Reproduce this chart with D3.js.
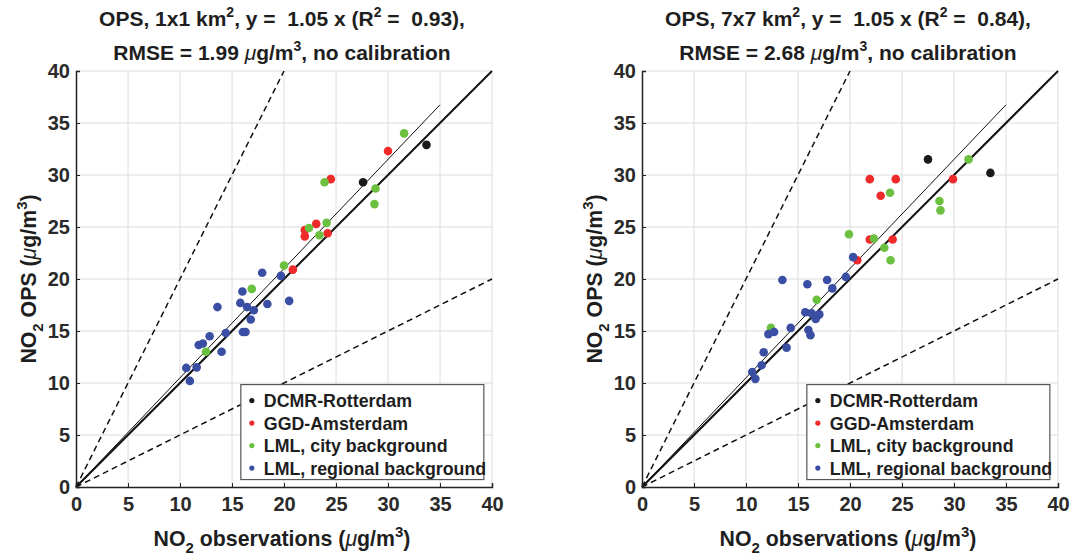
<!DOCTYPE html>
<html>
<head>
<meta charset="utf-8">
<script src="https://cdn.jsdelivr.net/npm/d3@7"></script>
<style>
  body { margin: 0; background: #fff; }
  svg { font-family: "Liberation Sans", Arial, sans-serif; font-weight: bold; }
  text { white-space: pre; }
</style>
</head>
<body>
<svg id="chart" width="1070" height="558"></svg>
<script>
// Groups and colours
const groups = ["DCMR-Rotterdam", "GGD-Amsterdam", "LML, city background", "LML, regional background"];
const groupColors = ["#1a1a1a", "#ee2a2a", "#6cc040", "#3a4ea3"];
const ticks = [0, 5, 10, 15, 20, 25, 30, 35, 40];

// Panel titles
const titles = [
  { res: "1x1", slope: "1.05", r2: "0.93", rmse: "1.99" },
  { res: "7x7", slope: "1.05", r2: "0.84", rmse: "2.68" }
];

// Left panel (1x1 km2): [observed, modelled]
const dcmr1 = [[27.6, 29.3], [33.7, 32.9]];
const ggd1 = [[30.0, 32.3], [24.5, 29.6], [22.0, 24.7], [23.1, 25.3], [22.0, 24.1], [24.2, 24.4], [20.85, 20.9]];
const city1 = [[31.55, 34.0], [23.9, 29.3], [28.8, 28.7], [28.7, 27.2], [22.4, 24.9], [24.1, 25.4], [23.4, 24.2], [20.0, 21.3], [16.9, 19.05], [12.5, 13.0]];
const regional1 = [[19.7, 20.3], [17.9, 20.6], [16.0, 18.8], [20.5, 17.9], [18.4, 17.6], [15.8, 17.7], [13.6, 17.3], [16.45, 17.3],
  [17.1, 17.0], [16.8, 16.1], [16.05, 14.9], [16.3, 14.9], [14.4, 14.8], [12.85, 14.5], [12.2, 13.8], [11.8, 13.65],
  [14.0, 13.0], [10.6, 11.45], [11.6, 11.5], [10.95, 10.2]];

// Right panel (7x7 km2)
const dcmr7 = [[27.5, 31.5], [33.5, 30.2]];
const ggd7 = [[21.9, 29.6], [24.4, 29.6], [29.9, 29.6], [22.95, 28.0], [21.9, 23.8], [24.1, 23.8], [20.7, 21.8]];
const city7 = [[31.4, 31.5], [23.85, 28.3], [28.6, 27.5], [28.7, 26.6], [19.9, 24.3], [22.3, 23.9], [23.3, 23.0], [23.9, 21.8], [16.8, 18.0], [12.4, 15.3]];
const regional7 = [[20.3, 22.1], [19.6, 20.2], [13.5, 19.9], [15.9, 19.5], [17.8, 19.9], [18.3, 19.1], [15.7, 16.8], [16.3, 16.7],
  [17.05, 16.6], [16.9, 16.5], [16.7, 16.15], [12.7, 14.9], [12.15, 14.7], [14.3, 15.3], [16.0, 15.1], [16.2, 14.6],
  [13.9, 13.4], [11.7, 12.95], [11.5, 11.7], [10.6, 11.06], [10.9, 10.4]];

const panels = [
  { x0: 76, title: titles[0], sets: [dcmr1, ggd1, city1, regional1] },
  { x0: 642, title: titles[1], sets: [dcmr7, ggd7, city7, regional7] }
];

const svg = d3.select("#chart");
const plotSize = 416, plotTop = 71;
const textColor = "#1e1e1e";

panels.forEach(p => {
  const x = d3.scaleLinear().domain([0, 40]).range([p.x0, p.x0 + plotSize]);
  const y = d3.scaleLinear().domain([0, 40]).range([plotTop + plotSize, plotTop]);
  const g = svg.append("g");

  // grid
  g.append("g").selectAll("line").data(ticks.slice(1)).join("line")
    .attr("x1", d => x(d)).attr("x2", d => x(d)).attr("y1", y(0)).attr("y2", y(40))
    .attr("stroke", "#dcdcdc").attr("stroke-width", 1);
  g.append("g").selectAll("line").data(ticks.slice(1)).join("line")
    .attr("y1", d => y(d)).attr("y2", d => y(d)).attr("x1", x(0)).attr("x2", x(40))
    .attr("stroke", "#dcdcdc").attr("stroke-width", 1);

  // reference lines
  const line = d3.line().x(d => x(d[0])).y(d => y(d[1]));
  g.append("path").attr("d", line([[0, 0], [20, 40]])).attr("fill", "none")
    .attr("stroke", "#111").attr("stroke-width", 1.5).attr("stroke-dasharray", "6,4");
  g.append("path").attr("d", line([[0, 0], [40, 20]])).attr("fill", "none")
    .attr("stroke", "#111").attr("stroke-width", 1.5).attr("stroke-dasharray", "6,4");
  g.append("path").attr("d", line([[0, 0], [40, 40]])).attr("fill", "none")
    .attr("stroke", "#111").attr("stroke-width", 2);
  const s = +p.title.slope;
  g.append("path").attr("d", line([[0, 0], [35, 35 * s]])).attr("fill", "none")
    .attr("stroke", "#111").attr("stroke-width", 1);

  // points
  p.sets.forEach((set, i) => {
    g.append("g").selectAll("circle").data(set).join("circle")
      .attr("cx", d => x(d[0])).attr("cy", d => y(d[1])).attr("r", 4.3)
      .attr("fill", groupColors[i]);
  });

  // axes
  const xa = g.append("g").attr("transform", `translate(0,${y(0)})`)
    .call(d3.axisBottom(x).tickValues(ticks).tickSize(-4).tickPadding(10));
  const ya = g.append("g").attr("transform", `translate(${x(0)},0)`)
    .call(d3.axisLeft(y).tickValues(ticks).tickSize(-4).tickPadding(6));
  [xa, ya].forEach(a => {
    a.select(".domain").attr("stroke", "#222").attr("stroke-width", 1.5);
    a.selectAll(".tick line").attr("stroke", "#222");
    a.selectAll("text").attr("font-size", 20).attr("font-weight", "bold")
      .attr("font-family", "Liberation Sans, Arial, sans-serif").attr("fill", "#2a2a2a");
  });

  // legend
  const lx = x(15.85), ly = y(9.85);
  const lg = g.append("g").attr("transform", `translate(${lx},${ly})`);
  lg.append("rect").attr("width", 243).attr("height", 95).attr("fill", "#fff")
    .attr("stroke", "#555").attr("stroke-width", 1.2);
  groups.forEach((name, i) => {
    lg.append("circle").attr("cx", 11).attr("cy", 16 + i * 22.5).attr("r", 2.6).attr("fill", groupColors[i]);
    lg.append("text").attr("x", 23).attr("y", 22.5 + i * 22.5).attr("font-size", 17.8)
      .attr("fill", textColor).text(name);
  });

  // title
  const cx = p.x0 + 206;
  const t1 = g.append("text").attr("x", cx).attr("y", 26).attr("text-anchor", "middle")
    .attr("font-size", 21).attr("fill", textColor);
  t1.append("tspan").text(`OPS, ${p.title.res} km`);
  t1.append("tspan").attr("dy", -9).attr("font-size", 14).text("2");
  t1.append("tspan").attr("dy", 9).text(`, y =  ${p.title.slope} x (R`);
  t1.append("tspan").attr("dy", -9).attr("font-size", 14).text("2");
  t1.append("tspan").attr("dy", 9).text(` =  ${p.title.r2}),`);
  const t2 = g.append("text").attr("x", cx).attr("y", 60).attr("text-anchor", "middle")
    .attr("font-size", 21).attr("fill", textColor);
  t2.append("tspan").text(`RMSE = ${p.title.rmse} `);
  t2.append("tspan").attr("font-style", "italic").attr("font-weight", "normal").text("\u03bc");
  t2.append("tspan").text("g/m");
  t2.append("tspan").attr("dy", -9).attr("font-size", 14).text("3");
  t2.append("tspan").attr("dy", 9).text(", no calibration");

  // x label
  const xl = g.append("text").attr("x", cx).attr("y", 546).attr("text-anchor", "middle")
    .attr("font-size", 21.3).attr("fill", textColor);
  xl.append("tspan").text("NO");
  xl.append("tspan").attr("dy", 7).attr("font-size", 15).text("2");
  xl.append("tspan").attr("dy", -7).text(" observations (");
  xl.append("tspan").attr("font-style", "italic").attr("font-weight", "normal").text("\u03bc");
  xl.append("tspan").text("g/m");
  xl.append("tspan").attr("dy", -9).attr("font-size", 15).text("3");
  xl.append("tspan").attr("dy", 9).text(")");

  // y label
  const yl = g.append("text").attr("transform", `translate(${p.x0 - 40},${plotTop + plotSize / 2}) rotate(-90)`)
    .attr("text-anchor", "middle").attr("font-size", 21.3).attr("fill", textColor);
  yl.append("tspan").text("NO");
  yl.append("tspan").attr("dy", 7).attr("font-size", 15).text("2");
  yl.append("tspan").attr("dy", -7).text(" OPS (");
  yl.append("tspan").attr("font-style", "italic").attr("font-weight", "normal").text("\u03bc");
  yl.append("tspan").text("g/m");
  yl.append("tspan").attr("dy", -9).attr("font-size", 15).text("3");
  yl.append("tspan").attr("dy", 9).text(")");
});
</script>
</body>
</html>
